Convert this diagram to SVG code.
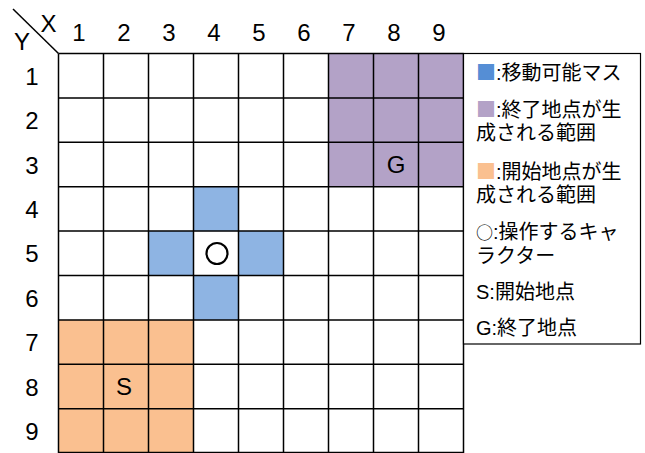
<svg xmlns="http://www.w3.org/2000/svg" width="645" height="453" viewBox="0 0 645 453">
<style>
.ax{font-family:"Liberation Sans","Noto Sans CJK JP",sans-serif;font-size:24px;fill:#000;text-anchor:middle}
.lg{font-family:"Liberation Sans","Noto Sans CJK JP",sans-serif;font-size:20px;fill:#000}
.cj{font-family:"Noto Sans CJK JP",sans-serif}
.gl{stroke:#000;stroke-width:1.5;fill:none}
.blue{fill:#8EB4E3}.purple{fill:#B3A2C7}.orange{fill:#FAC090}
</style>
<rect width="645" height="453" fill="#fff"/>
<g id="regions">
<rect class="purple" x="328.5" y="53.5" width="135" height="133.2"/>
<rect class="orange" x="58.5" y="319.9" width="135" height="133.2"/>
<rect class="blue" x="193.5" y="186.7" width="45" height="44.4"/>
<rect class="blue" x="148.5" y="231.1" width="45" height="44.4"/>
<rect class="blue" x="238.5" y="231.1" width="45" height="44.4"/>
<rect class="blue" x="193.5" y="275.5" width="45" height="44.4"/>
</g>
<g id="grid">
<path class="gl" d="M58.5 53.5V453M103.5 53.5V453M148.5 53.5V453M193.5 53.5V453M238.5 53.5V453M283.5 53.5V453M328.5 53.5V453M373.5 53.5V453M418.5 53.5V453M463.5 53.5V453M58.5 53.5H463.5M58.5 97.9H463.5M58.5 142.3H463.5M58.5 186.7H463.5M58.5 231.1H463.5M58.5 275.5H463.5M58.5 319.9H463.5M58.5 364.3H463.5M58.5 408.7H463.5M58.5 452.5H463.5"/>
<line class="gl" x1="13" y1="9" x2="58.5" y2="53.5" stroke-width="1.2"/>
</g>
<g id="axes">
<text class="ax" x="48.5" y="32" font-size="21">X</text>
<text class="ax" x="22" y="50" font-size="21">Y</text>
<text class="ax" x="79" y="41">1</text>
<text class="ax" x="124" y="41">2</text>
<text class="ax" x="169" y="41">3</text>
<text class="ax" x="214" y="41">4</text>
<text class="ax" x="259" y="41">5</text>
<text class="ax" x="304" y="41">6</text>
<text class="ax" x="349" y="41">7</text>
<text class="ax" x="394" y="41">8</text>
<text class="ax" x="439" y="41">9</text>
<text class="ax" x="32" y="85">1</text>
<text class="ax" x="32" y="129">2</text>
<text class="ax" x="32" y="174">3</text>
<text class="ax" x="32" y="218">4</text>
<text class="ax" x="32" y="262">5</text>
<text class="ax" x="32" y="307">6</text>
<text class="ax" x="32" y="351">7</text>
<text class="ax" x="32" y="396">8</text>
<text class="ax" x="32" y="440">9</text>
</g>
<g id="cell-labels">
<text class="ax" x="124" y="395">S</text>
<text class="ax" x="396" y="173">G</text>
<circle cx="217" cy="253.5" r="10.5" fill="none" stroke="#000" stroke-width="2.2"/>
</g>
<g id="legend">
<rect x="463.5" y="53.5" width="177" height="290.5" fill="#fff" stroke="#000" stroke-width="1.2"/>
<text class="lg" x="476" y="80"><tspan class="cj" fill="#558ED5">■</tspan>:移動可能マス</text>
<text class="lg" x="476" y="117"><tspan class="cj" fill="#B3A2C7">■</tspan>:終了地点が生</text>
<text class="lg" x="476" y="140">成される範囲</text>
<text class="lg" x="476" y="179"><tspan class="cj" fill="#FAC090">■</tspan>:開始地点が生</text>
<text class="lg" x="476" y="202">成される範囲</text>
<text class="lg" x="476" y="239"><tspan class="cj" font-size="17">○</tspan>:操作するキャ</text>
<text class="lg" x="476" y="263">ラクター</text>
<text class="lg" x="476" y="299">S:開始地点</text>
<text class="lg" x="476" y="335">G:終了地点</text>
</g>
</svg>
